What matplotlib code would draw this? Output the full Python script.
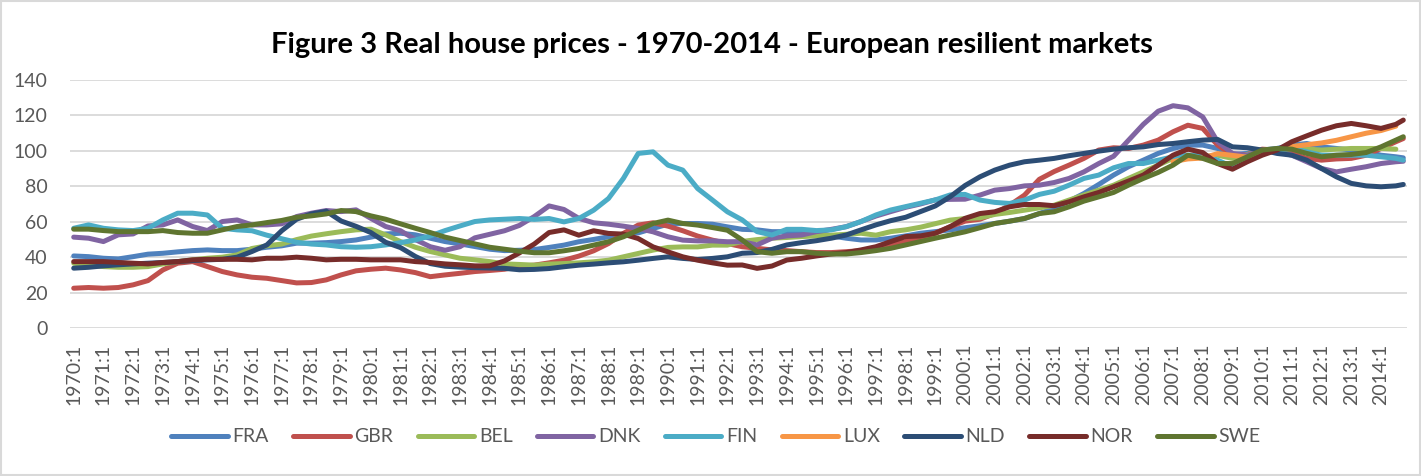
"""Figure 3 実質住宅価格のグラフ"""
import numpy as np
import matplotlib
matplotlib.use("Agg")
import matplotlib.pyplot as plt
from matplotlib.patches import Rectangle


# 期間 (半年ごと + 最終四半期)
periods = [f"{y}:{q}" for y in range(1970, 2015) for q in (1, 3)] + ["2014:4"]

fra = [40.8, 40.4, 39.5, 39.1, 40.4, 41.8, 42.3, 43.1, 43.8, 44.2,
       43.8, 43.8, 44.6, 45.7, 46.5, 48.0, 48.0, 48.3, 48.9, 49.8,
       51.4, 53.2, 53.6, 52.7, 50.8, 48.9, 47.6, 46.1, 44.6, 43.8,
       44.0, 44.4, 45.6, 46.9, 48.8, 50.1, 51.6, 53.1, 53.8, 56.3,
       58.7, 59.1, 59.1, 58.7, 57.2, 55.8, 55.5, 54.5, 54.5, 54.5,
       53.9, 52.1, 50.8, 49.8, 49.8, 50.8, 52.1, 53.6, 54.5, 55.5,
       56.7, 57.8, 59.1, 60.4, 61.9, 64.7, 67.6, 71.7, 76.0, 81.1,
       86.4, 91.1, 94.8, 98.6, 101.4, 103.3, 103.3, 101.4, 98.0, 98.6,
       100.5, 101.4, 103.3, 104.2, 102.3, 101.4, 100.5, 99.5, 97.6, 96.7,
       96.1]
gbr = [22.6, 23.0, 22.6, 23.0, 24.5, 26.9, 32.9, 36.7, 37.6, 34.8,
       32.0, 30.1, 28.8, 28.2, 26.9, 25.6, 25.8, 27.3, 30.1, 32.4,
       33.3, 33.9, 32.9, 31.4, 29.1, 30.1, 31.0, 32.0, 32.6, 33.3,
       35.0, 35.6, 36.9, 38.4, 40.7, 43.7, 47.8, 53.5, 58.2, 59.5,
       57.6, 55.0, 52.0, 49.7, 47.8, 46.0, 45.1, 44.2, 43.8, 43.2,
       42.7, 42.7, 43.2, 43.8, 45.1, 47.0, 48.9, 50.8, 53.6, 57.3,
       60.4, 61.5, 64.7, 69.4, 75.1, 84.0, 88.4, 92.0, 95.8, 100.5,
       101.8, 101.4, 103.3, 106.1, 110.8, 114.5, 112.7, 103.3, 97.6, 98.0,
       101.0, 100.5, 98.6, 95.8, 94.8, 95.5, 95.8, 97.6, 101.4, 105.2,
       107.0]
bel = [36.7, 35.7, 34.8, 34.4, 34.4, 34.8, 36.3, 37.6, 38.6, 39.5,
       40.1, 41.4, 45.0, 46.5, 47.5, 50.0, 52.0, 53.3, 54.5, 55.5,
       55.9, 52.7, 48.9, 45.7, 43.3, 41.4, 39.5, 38.6, 37.6, 36.3,
       36.0, 35.6, 36.2, 36.5, 36.9, 37.5, 38.4, 40.3, 42.2, 44.1,
       45.6, 45.9, 45.9, 46.9, 46.9, 49.0, 50.0, 50.8, 51.2, 51.7,
       52.1, 52.5, 53.0, 53.6, 52.5, 54.5, 55.5, 57.0, 59.0, 61.0,
       61.9, 62.3, 64.2, 65.3, 66.6, 67.9, 69.4, 72.3, 75.1, 77.9,
       80.7, 84.5, 88.2, 92.0, 95.8, 95.8, 96.7, 97.6, 95.8, 98.0,
       100.0, 100.5, 101.4, 101.0, 100.5, 101.0, 101.4, 101.4, 101.4, 101.0,
       None]
dnk = [51.4, 50.8, 48.9, 52.7, 53.2, 57.7, 58.3, 61.1, 57.4, 55.1,
       60.2, 61.1, 58.3, 58.3, 58.9, 63.0, 64.9, 66.4, 65.8, 66.8,
       62.0, 57.4, 55.0, 50.0, 46.0, 44.0, 46.0, 51.0, 53.0, 55.0,
       58.0, 63.0, 69.0, 67.0, 62.0, 59.5, 58.7, 57.6, 56.3, 54.4,
       51.6, 49.7, 49.3, 49.3, 48.8, 48.9, 47.0, 50.8, 52.1, 52.6,
       54.5, 55.8, 57.3, 60.2, 63.3, 65.8, 68.2, 70.1, 72.4, 72.7,
       72.8, 75.1, 77.9, 78.8, 80.3, 80.7, 82.2, 84.5, 88.2, 92.9,
       97.0, 106.0, 115.0, 122.4, 125.5, 124.3, 119.2, 105.2, 98.6, 97.6,
       100.5, 99.5, 97.6, 93.9, 90.1, 88.2, 89.7, 91.1, 92.9, 93.9,
       94.2]
fin = [56.4, 58.3, 56.4, 55.5, 55.1, 56.4, 61.1, 64.9, 64.9, 63.9,
       56.4, 55.5, 55.0, 52.5, 50.5, 48.5, 47.5, 47.0, 46.0, 45.7,
       46.0, 47.0, 48.3, 49.8, 52.1, 55.1, 57.7, 60.2, 61.1, 61.5,
       61.9, 61.4, 61.9, 60.0, 61.9, 66.6, 73.2, 84.5, 98.6, 99.5,
       92.0, 89.2, 78.8, 72.3, 65.7, 61.1, 54.5, 52.6, 55.8, 55.8,
       55.1, 55.5, 57.3, 60.2, 63.9, 66.7, 68.6, 70.5, 72.4, 75.2,
       75.5, 72.3, 71.0, 70.4, 72.3, 75.5, 77.3, 80.7, 84.5, 86.4,
       90.5, 92.9, 92.9, 94.8, 96.7, 97.6, 97.6, 94.8, 91.1, 94.8,
       99.5, 100.5, 101.4, 99.5, 97.6, 97.6, 97.6, 97.6, 96.7, 95.8,
       94.8]
# LUX は 2007:1 から
lux = [None] * 74 + [94.0, 95.5, 96.0, 98.5, 97.5, 96.5, 99.0, 101.0,
                     102.5, 103.5, 104.5, 106.0, 108.0, 110.0, 111.5, 114.0,
                     None]
nld = [33.9, 34.4, 35.2, 35.8, 36.3, 36.7, 37.1, 37.6, 38.2, 38.6,
       38.9, 40.1, 43.3, 47.0, 55.0, 61.5, 64.5, 66.0, 60.5, 57.5,
       54.0, 48.5, 45.5, 40.5, 36.5, 35.0, 34.5, 34.2, 34.0, 33.8,
       33.0, 33.2, 33.7, 34.7, 35.6, 36.2, 36.9, 37.5, 38.4, 39.4,
       40.3, 39.4, 38.8, 39.4, 40.3, 42.3, 42.7, 44.5, 47.0, 48.3,
       49.4, 50.8, 52.6, 55.5, 58.3, 60.7, 62.6, 65.8, 69.0, 74.2,
       80.5, 85.4, 89.2, 92.0, 93.9, 94.8, 95.8, 97.3, 98.6, 99.9,
       101.0, 101.8, 102.3, 103.6, 104.2, 105.2, 106.1, 106.5, 102.3, 101.8,
       100.5, 98.6, 97.6, 94.8, 90.1, 85.4, 81.7, 80.3, 79.8, 80.3,
       81.1]
nor = [37.6, 37.6, 37.6, 37.1, 36.7, 36.3, 37.1, 37.6, 38.6, 38.9,
       38.9, 38.9, 38.6, 39.5, 39.5, 40.1, 39.5, 38.6, 38.9, 38.9,
       38.6, 38.6, 38.6, 37.6, 37.1, 36.3, 35.8, 35.2, 35.2, 38.0,
       42.5, 47.5, 54.0, 55.5, 52.5, 55.0, 53.5, 53.1, 50.6, 45.9,
       43.1, 40.3, 38.4, 36.9, 35.6, 35.7, 33.8, 35.1, 38.5, 39.5,
       40.8, 41.9, 42.7, 44.2, 46.0, 48.9, 51.7, 52.1, 53.6, 57.3,
       62.0, 64.7, 65.7, 68.5, 69.8, 69.8, 69.1, 71.3, 74.1, 76.6,
       79.8, 83.0, 86.4, 92.0, 97.6, 101.0, 99.1, 92.9, 89.7, 93.9,
       97.6, 100.5, 105.2, 108.5, 111.7, 114.2, 115.5, 114.2, 112.7, 115.0,
       117.4]
swe = [55.9, 55.9, 55.1, 54.5, 54.5, 54.5, 55.1, 54.0, 53.6, 53.6,
       55.5, 57.4, 58.3, 59.6, 60.8, 62.6, 63.4, 64.5, 66.4, 65.8,
       63.4, 61.5, 58.9, 56.4, 54.0, 51.4, 49.5, 47.6, 45.7, 44.6,
       43.5, 42.6, 42.6, 43.7, 45.0, 46.9, 48.8, 51.6, 55.3, 59.1,
       61.0, 59.1, 58.2, 56.8, 55.3, 49.8, 43.2, 42.3, 43.2, 43.2,
       42.3, 41.9, 41.9, 42.7, 43.8, 45.1, 47.0, 48.9, 50.8, 52.6,
       54.4, 56.7, 59.1, 60.4, 61.9, 64.7, 65.7, 68.5, 71.7, 74.1,
       76.6, 80.7, 84.5, 87.9, 92.0, 97.6, 95.8, 92.9, 92.9, 96.7,
       100.5, 101.4, 101.0, 98.6, 96.7, 97.6, 98.0, 99.1, 102.3, 106.1,
       108.0]

countries = ["FRA", "GBR", "BEL", "DNK", "FIN", "LUX", "NLD", "NOR", "SWE"]
series = [fra, gbr, bel, dnk, fin, lux, nld, nor, swe]
colors = ["#4F81BD", "#C0504D", "#9BBB59", "#8064A2", "#4BACC6",
          "#F79646", "#2C4D75", "#772C2A", "#5F7530"]

title = "Figure 3 Real house prices - 1970-2014 - European resilient markets"


# "1970:3" -> 四半期の通し番号
def quarter_index(p):
    y, q = p.split(":")
    return (int(y) - 1970) * 4 + int(q) - 1


plt.rcParams['font.family'] = ['Lato', 'DejaVu Sans']

W, H = 1421, 476
fig = plt.figure(figsize=(W / 100, H / 100), dpi=100)
ax = fig.add_axes([70 / W, 1 - 328.3 / H, (1407 - 70) / W, (328.3 - 80) / H])

x = np.array([quarter_index(p) for p in periods])
for name, vals, c in zip(countries, series, colors):
    ax.plot(x, np.array(vals, dtype=float), color=c, lw=3.6, label=name,
            solid_capstyle='round', solid_joinstyle='round')

ax.set_xlim(-0.5, 179.5)
ax.set_ylim(0, 140)
ax.set_yticks(range(0, 141, 20))
ax.set_xticks(range(0, 180, 4))
ax.set_xticklabels([f"{y}:1" for y in range(1970, 2015)], rotation=90)
ax.tick_params(axis='both', length=0, colors='#595959', labelsize=14)
ax.tick_params(axis='y', pad=16)
ax.tick_params(axis='x', pad=11)
ax.yaxis.grid(True, color='#D9D9D9', lw=1.3)
ax.set_axisbelow(True)
for s in ax.spines.values():
    s.set_visible(False)

fig.text(0.5007, 1 - 45 / H, title, ha='center', va='center',
         fontsize=21, fontweight='bold', color='black')

fig.legend(loc='center', bbox_to_anchor=(716 / W, 1 - 437 / H), ncol=9,
           frameon=False, fontsize=14, handlelength=2.9, handletextpad=0.25,
           columnspacing=1.25, labelcolor='#595959')

# 外枠
fig.patches.append(Rectangle((0.001, 0.002), 0.998, 0.996, transform=fig.transFigure,
                             fill=False, edgecolor='#D9D9D9', lw=1.5))

fig.savefig('out.png', dpi=100)
